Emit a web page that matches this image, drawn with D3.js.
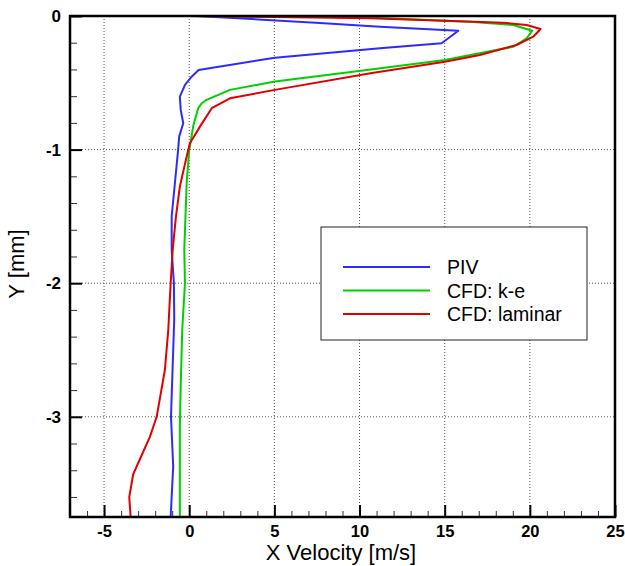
<!DOCTYPE html>
<html>
<head>
<meta charset="utf-8">
<script src="https://cdn.jsdelivr.net/npm/d3@7"></script>
<style>
  body { margin: 0; background: #fff; }
  svg { display: block; }
</style>
</head>
<body>
<svg id="chart" width="625" height="566"></svg>
<script>
// x velocity [m/s], y [mm]
const pivX = [0.45, 7.68, 11.2, 15.8, 14.82, 11.2, 5.03, 0.55, 0.14, -0.25, -0.55, -0.5, -0.35, -0.59, -0.65, -0.84, -1.03, -1.03, -0.9, -0.88, -1.07, -0.94, -1.09];
const pivY = [0, -0.052, -0.08, -0.11, -0.204, -0.242, -0.312, -0.404, -0.454, -0.516, -0.604, -0.703, -0.803, -0.903, -1.0, -1.25, -1.5, -1.75, -2.0, -2.27, -3.0, -3.37, -3.75];

const keX = [0, 10.2, 16.48, 19.03, 20.14, 19.81, 19.03, 15.01, 10.9, 5.03, 2.39, 1.02, 0.73, 0.53, 0.33, 0.23, 0.04, 0, -0.15, -0.29, -0.25, -0.41, -0.5, -0.55, -0.55];
const keY = [0, -0.01, -0.043, -0.067, -0.11, -0.167, -0.23, -0.329, -0.396, -0.491, -0.553, -0.628, -0.653, -0.69, -0.778, -0.828, -0.978, -1.0, -1.251, -1.75, -2.0, -2.35, -2.77, -3.07, -3.75];

const lamX = [0, 10.6, 18.42, 19.81, 20.63, 20.2, 19.22, 17.07, 15.01, 10.73, 5.03, 2.39, 1.32, 0.63, 0.04, -0.15, -0.55, -0.78, -0.97, -1.09, -1.23, -1.43, -1.91, -2.31, -3.29, -3.52, -3.44];
const lamY = [0, -0.017, -0.05, -0.067, -0.097, -0.155, -0.217, -0.292, -0.342, -0.426, -0.553, -0.616, -0.69, -0.828, -0.952, -1.052, -1.277, -1.501, -1.75, -2.0, -2.35, -2.65, -3.0, -3.15, -3.43, -3.6, -3.75];

const seriesNames = ["PIV", "CFD: k-e", "CFD: laminar"];
const seriesColors = ["#2b2bff", "#00d000", "#e00000"];

const xMajor = [-5, 0, 5, 10, 15, 20, 25];
const yMajor = [0, -1, -2, -3];

const series = [
  { name: seriesNames[0], color: seriesColors[0], pts: pivX.map((v, i) => [v, pivY[i]]) },
  { name: seriesNames[1], color: seriesColors[1], pts: keX.map((v, i) => [v, keY[i]]) },
  { name: seriesNames[2], color: seriesColors[2], pts: lamX.map((v, i) => [v, lamY[i]]) }
];

const svg = d3.select('#chart');
const margin = { top: 16, right: 10, bottom: 49, left: 70 };
const width = 625 - margin.left - margin.right;
const height = 566 - margin.top - margin.bottom;

const g = svg.append('g').attr('transform', `translate(${margin.left},${margin.top})`);

const x = d3.scaleLinear().domain([-7, 25]).range([0, width]);
const y = d3.scaleLinear().domain([-3.75, 0]).range([height, 0]);

const font = '"Liberation Sans", Arial, sans-serif';

// dotted grid
g.append('g').selectAll('line')
  .data(xMajor.filter(d => d < 25))
  .enter().append('line')
  .attr('x1', d => x(d)).attr('x2', d => x(d))
  .attr('y1', 0).attr('y2', height)
  .attr('stroke', '#555').attr('stroke-width', 1).attr('stroke-dasharray', '1,2');

g.append('g').selectAll('line')
  .data(yMajor.filter(d => d < 0))
  .enter().append('line')
  .attr('x1', 0).attr('x2', width)
  .attr('y1', d => y(d)).attr('y2', d => y(d))
  .attr('stroke', '#555').attr('stroke-width', 1).attr('stroke-dasharray', '1,2');

// minor ticks
const xMinor = d3.range(-7, 26, 1).filter(d => d % 5 !== 0);
const yMinor = d3.range(0, -3.75, -0.2).map(d => +d.toFixed(1)).filter(d => Math.abs(d % 1) > 0.01);

g.append('g').attr('transform', `translate(0,${height})`)
  .call(d3.axisBottom(x).tickValues(xMinor).tickSize(-6).tickFormat(''))
  .call(a => a.select('.domain').remove())
  .selectAll('line').attr('stroke', '#333').attr('stroke-width', 1);

g.append('g')
  .call(d3.axisLeft(y).tickValues(yMinor).tickSize(-7).tickFormat(''))
  .call(a => a.select('.domain').remove())
  .selectAll('line').attr('stroke', '#333').attr('stroke-width', 1);

// major ticks and labels
const xAxis = g.append('g').attr('transform', `translate(0,${height})`)
  .call(d3.axisBottom(x).tickValues(xMajor).tickSize(-12).tickPadding(8).tickFormat(d => String(d)));
xAxis.select('.domain').remove();
xAxis.selectAll('line').attr('stroke', '#000').attr('stroke-width', 2);
xAxis.selectAll('text').attr('font-family', font).attr('font-size', 16.5).attr('font-weight', 'bold').attr('fill', '#000');

const yAxis = g.append('g')
  .call(d3.axisLeft(y).tickValues(yMajor).tickSize(-12).tickPadding(9).tickFormat(d => String(d)));
yAxis.select('.domain').remove();
yAxis.selectAll('line').attr('stroke', '#000').attr('stroke-width', 2);
yAxis.selectAll('text').attr('font-family', font).attr('font-size', 17).attr('font-weight', 'bold').attr('fill', '#000');

// curves
const line = d3.line().x(d => x(d[0])).y(d => y(d[1]));
g.append('g').selectAll('path')
  .data(series)
  .enter().append('path')
  .attr('d', d => line(d.pts))
  .attr('fill', 'none')
  .attr('stroke', d => d.color)
  .attr('stroke-width', 2)
  .attr('stroke-linejoin', 'round');

// frame
g.append('rect')
  .attr('x', 0).attr('y', 0).attr('width', width).attr('height', height)
  .attr('fill', 'none').attr('stroke', '#000').attr('stroke-width', 2.5);

// axis titles
svg.append('text')
  .attr('x', 341).attr('y', 560)
  .attr('text-anchor', 'middle')
  .attr('font-family', font).attr('font-size', 22)
  .text('X Velocity [m/s]');

svg.append('text')
  .attr('transform', `translate(24,${264}) rotate(-90)`)
  .attr('text-anchor', 'middle')
  .attr('font-family', font).attr('font-size', 22)
  .text('Y [mm]');

// legend
const lg = svg.append('g').attr('transform', 'translate(321,227)');
lg.append('rect').attr('width', 266).attr('height', 113)
  .attr('fill', '#fff').attr('stroke', '#222').attr('stroke-width', 1);
const rows = lg.selectAll('g.row').data(series).enter().append('g')
  .attr('transform', (d, i) => `translate(0,${40 + i * 23.5})`);
rows.append('line').attr('x1', 22).attr('x2', 109)
  .attr('stroke', d => d.color).attr('stroke-width', 2);
rows.append('text').attr('x', 126).attr('y', 7)
  .attr('font-family', font).attr('font-size', 19.5)
  .text(d => d.name);
</script>
</body>
</html>
